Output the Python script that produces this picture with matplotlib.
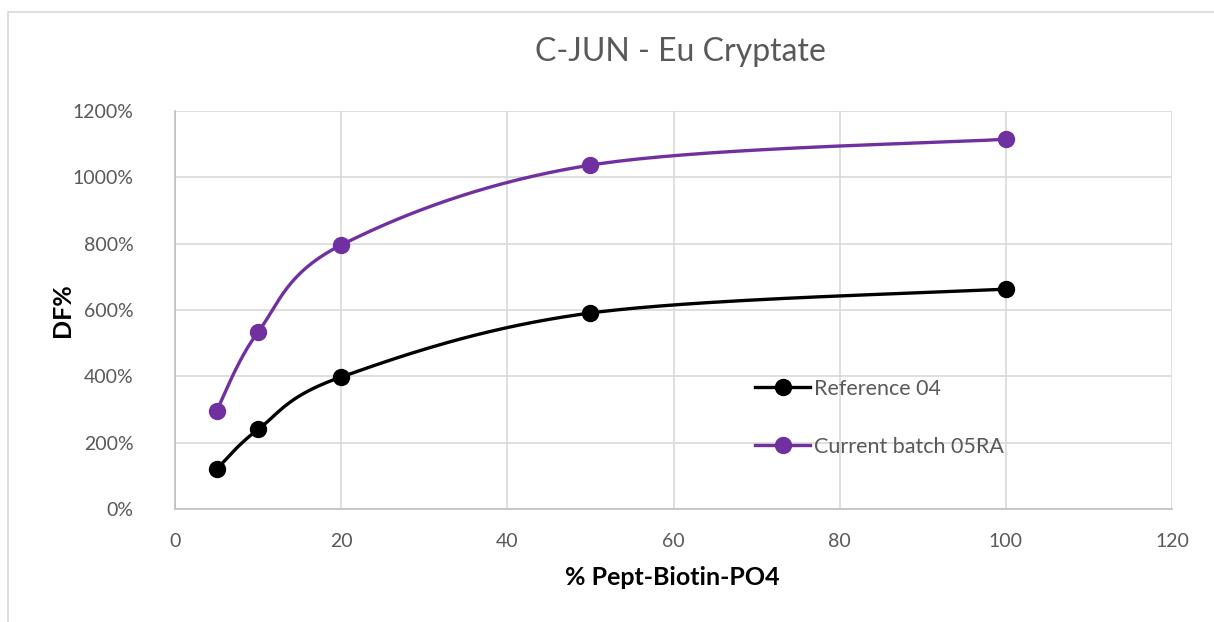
import numpy as np
import matplotlib
matplotlib.use("Agg")
import matplotlib.pyplot as plt
from matplotlib.patches import Rectangle
from matplotlib.ticker import FuncFormatter

plt.rcParams["font.family"] = ["Lato", "DejaVu Sans"]

x_pct = [5, 10, 20, 50, 100]
ref_04 = [120, 240, 398, 591, 663]
batch_05ra = [296, 534, 796, 1037, 1115]
series_names = ["Reference 04", "Current batch 05RA"]
series_colors = ["#000000", "#7030A0"]

TEXT_GRAY = "#595959"
GRID_GRAY = "#D9D9D9"


def smooth_curve(xs, ys, n=40):
    # Excel-like smoothing: Catmull-Rom converted to cubic Bezier segments
    pts = np.column_stack([xs, ys]).astype(float)
    padded = np.vstack([pts[0], pts, pts[-1]])
    out = []
    for i in range(len(pts) - 1):
        p0, p1, p2, p3 = padded[i], padded[i + 1], padded[i + 2], padded[i + 3]
        c1 = p1 + (p2 - p0) / 6.0
        c2 = p2 - (p3 - p1) / 6.0
        t = np.linspace(0, 1, n)[:, None]
        seg = ((1 - t) ** 3 * p1 + 3 * (1 - t) ** 2 * t * c1
               + 3 * (1 - t) * t ** 2 * c2 + t ** 3 * p2)
        out.append(seg if i == 0 else seg[1:])
    curve = np.vstack(out)
    return curve[:, 0], curve[:, 1]


fig = plt.figure(figsize=(12.14, 6.22), dpi=100)
ax = fig.add_axes([0.1442, 0.1817, 0.8212, 0.6398])

# chart area border
fig.patches.append(Rectangle((8 / 1214, -0.05), 1.2, 1 - 12 / 622 + 0.05,
                             transform=fig.transFigure, fill=False,
                             edgecolor=GRID_GRAY, linewidth=1.2))

for ys, name, color in zip([ref_04, batch_05ra], series_names, series_colors):
    sx, sy = smooth_curve(x_pct, ys)
    ax.plot(sx, sy, color=color, linewidth=2.4, zorder=3)
    ax.plot(x_pct, ys, linestyle="none", marker="o", markersize=11.5,
            color=color, zorder=4)
    ax.plot([], [], color=color, linewidth=2.4, marker="o", markersize=11.5,
            label=name)

ax.set_xlim(0, 120)
ax.set_ylim(0, 1200)
ax.set_xticks(np.arange(0, 121, 20))
ax.set_yticks(np.arange(0, 1201, 200))
ax.yaxis.set_major_formatter(FuncFormatter(lambda v, _: f"{v:.0f}%"))
ax.grid(True, color=GRID_GRAY, linewidth=1.2)
ax.set_axisbelow(True)
ax.tick_params(length=0, labelsize=14, labelcolor=TEXT_GRAY)
ax.tick_params(axis="y", pad=30)
ax.tick_params(axis="x", pad=17)
for side in ("top", "right"):
    ax.spines[side].set_visible(False)
for side in ("left", "bottom"):
    ax.spines[side].set_color("#BFBFBF")
    ax.spines[side].set_linewidth(1.2)

fig.text(680 / 1214, 1 - 52 / 622, "C-JUN - Eu Cryptate", fontsize=23,
         color=TEXT_GRAY, ha="center", va="center")
ax.set_xlabel("% Pept-Biotin-PO4", fontsize=18, fontweight="bold", va="center")
ax.set_ylabel("DF%", fontsize=18, fontweight="bold", va="center")
ax.xaxis.set_label_coords(0.4985, -0.173)
ax.yaxis.set_label_coords(-0.113, 0.5)

ax.legend(loc="upper left", bbox_to_anchor=(0.571, 0.354), frameon=False,
          fontsize=15.5, labelcolor=TEXT_GRAY, handlelength=2.55,
          handletextpad=0.18, labelspacing=1.75, borderpad=0)

fig.savefig("out.png", dpi=100)
